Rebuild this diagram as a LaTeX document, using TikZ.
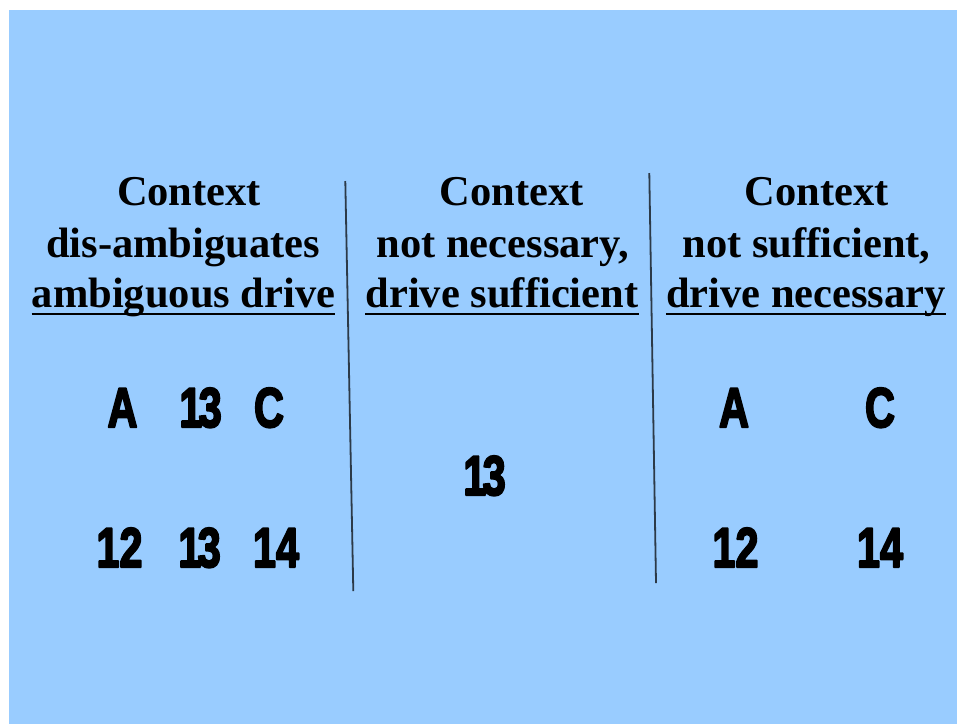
\documentclass[tikz,border=0pt]{standalone}
\usepackage{fontspec}
\setmainfont{Liberation Serif}
\newfontfamily\glyphfont{Liberation Sans}
\usetikzlibrary{calc}
\definecolor{bg}{HTML}{99CCFF}
\definecolor{divider}{HTML}{2C3A48}
\newcommand{\heavy}[1]{\special{pdf:literal q 2 Tr 2.2 w 1 j}#1\special{pdf:literal Q}}
\tikzset{
  hd/.style={inner sep=0pt, anchor=base, font=\fontsize{42.5}{50}\selectfont\bfseries},
  glyph/.style={inner sep=0pt, anchor=base, font=\glyphfont\fontsize{56}{56}\selectfont\bfseries},
  uline/.style={line width=2.4pt, black},
  divline/.style={line width=1.8pt, divider},
}
\newcommand{\gl}[1]{\scalebox{0.74}[1]{\heavy{#1}}}
\newcommand{\ambig}{\gl{1\kern-0.09em 3}}
\begin{document}
\begin{tikzpicture}[x=1pt,y=-1pt]
\useasboundingbox (0,0) rectangle (957,724);
\fill[white] (0,0) rectangle (957,724);
\fill[bg] (9,10) rectangle (957,724);

% headers column 1
\node[hd] (h11) at (189,205) {Context};
\node[hd] (h12) at (183,257) {dis-ambiguates};
\node[hd] (h13) at (183.5,307) {ambiguous drive};
% column 2
\node[hd] (h21) at (511.5,205) {Context};
\node[hd] (h22) at (503,257) {not necessary,};
\node[hd] (h23) at (502,307) {drive sufficient};
% column 3
\node[hd] (h31) at (816.5,205) {Context};
\node[hd] (h32) at (806.5,257) {not sufficient,};
\node[hd] (h33) at (806,307) {drive necessary};

\foreach \n in {h13,h23,h33}{
  \draw[uline] ($(\n.base west)+(0,7)$) -- ($(\n.base east)+(0,7)$);
}

% dividers
\coordinate (d1t) at (345.3,181);
\coordinate (d1b) at (353.3,591);
\coordinate (d2t) at (649.3,173);
\coordinate (d2b) at (656,583);
\draw[divline] (d1t) -- (d1b);
\draw[divline] (d2t) -- (d2b);

% left panel glyphs
\node[glyph] (la) at (122.5,427) {\gl{A}};
\node[glyph] (lb) at (200.5,427) {\ambig};
\node[glyph] (lc) at (269,427) {\gl{C}};
\node[glyph] (l12) at (119.5,567) {\gl{12}};
\node[glyph] (l13) at (199.5,567) {\ambig};
\node[glyph] (l14) at (276,567) {\gl{14}};
% middle panel
\node[glyph] (m13) at (484.5,495) {\ambig};
% right panel
\node[glyph] (ra) at (734,427) {\gl{A}};
\node[glyph] (rc) at (880,427) {\gl{C}};
\node[glyph] (r12) at (735.5,567) {\gl{12}};
\node[glyph] (r14) at (880,567) {\gl{14}};
\end{tikzpicture}
\end{document}
